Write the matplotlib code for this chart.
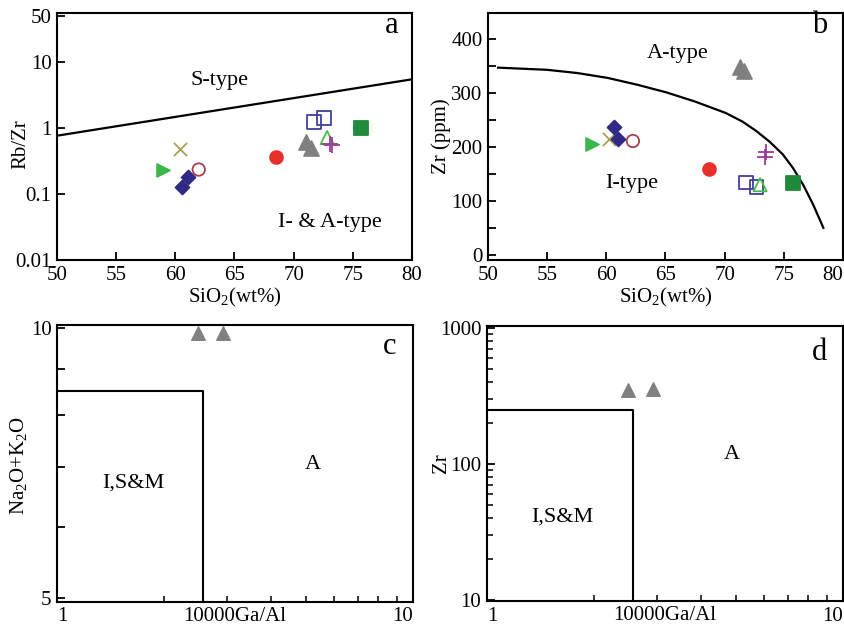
import matplotlib
matplotlib.use('Agg')
import matplotlib.pyplot as plt
from matplotlib.ticker import FixedLocator, NullFormatter, NullLocator

plt.rcParams['font.family'] = ['Liberation Serif', 'DejaVu Serif']
plt.rcParams['mathtext.fontset'] = 'custom'
plt.rcParams['mathtext.rm'] = 'Liberation Serif'

# ---- data ----
# marker groups (same sample groups in panels a and b)
kind_marker = ['>', 'x', 'D', 'o', 'o', '^', 's', '^', '+', 's']
kind_face = ['#3cb54a', '#a89f55', '#2e2a86', 'none', '#e8302a',
             '#808080', 'none', 'none', '#9a3b9a', '#1e8a3a']
kind_edge = ['#3cb54a', '#a89f55', '#2e2a86', '#a5404c', '#e8302a',
             '#808080', '#3f3f9e', '#4cbb4c', '#9a3b9a', '#1e8a3a']
kind_size = [85, 90, 50, 80, 85, 115, 100, 90, 125, 100]

# panel a: SiO2 vs Rb/Zr
a_sio2 = [58.95, 60.42, 60.57, 61.05, 61.98, 68.5, 71.05, 71.47, 71.7, 72.6, 72.83, 73.1, 73.25, 75.67]
a_rbzr = [0.228, 0.48, 0.127, 0.18, 0.233, 0.356, 0.60, 0.49, 1.23, 1.43, 0.71, 0.56, 0.54, 1.0]
a_kind = [0, 1, 2, 2, 3, 4, 5, 5, 6, 6, 7, 8, 8, 9]
a_line_x = [50, 80]
a_line_y = [0.76, 5.45]

# panel b: SiO2 vs Zr
b_sio2 = [58.83, 60.26, 60.63, 61.03, 62.25, 68.72, 71.28, 71.65, 71.8, 72.7, 73.0, 73.4, 73.5, 75.8]
b_zr = [206, 214, 237, 214, 211, 160, 349, 340, 134, 125, 130, 182, 190, 134]
b_kind = [0, 1, 2, 2, 3, 4, 5, 5, 6, 6, 7, 8, 8, 9]
b_curve_x = [50.85, 54.99, 57.55, 60.11, 62.68, 65.1, 67.52, 70.09, 71.51,
             72.65, 73.79, 74.93, 75.78, 76.64, 77.49, 78.35]
b_curve_y = [347, 343, 337, 328, 315, 301, 284, 263, 247,
             230, 210, 186, 161, 130, 93, 50]

# panels c and d: 10000Ga/Al
c_gaal = [2.49, 2.93]
c_alk = [9.88, 9.88]
d_gaal = [2.49, 2.93]
d_zr = [350, 356]
box_gaal = 2.57
c_box_top = 8.5
d_box_top = 248

fs = 15
fig = plt.figure(figsize=(8.45, 6.27), dpi=100)
ax_a = fig.add_axes([0.0675, 0.585, 0.420, 0.394])
ax_b = fig.add_axes([0.5775, 0.585, 0.420, 0.394])
ax_c = fig.add_axes([0.0675, 0.040, 0.421, 0.442])
ax_d = fig.add_axes([0.5763, 0.0415, 0.4213, 0.4387])

for ax in (ax_a, ax_b, ax_c, ax_d):
    for s in ax.spines.values():
        s.set_linewidth(1.5)
    ax.tick_params(which='major', direction='in', length=6, width=1.3,
                   labelsize=fs, pad=4)
    ax.tick_params(which='minor', direction='in', length=4, width=1.1)


def draw_points(ax, xs, ys, kinds):
    for x, y, k in zip(xs, ys, kinds):
        if kind_marker[k] in ('x', '+'):
            ax.scatter(x, y, marker=kind_marker[k], s=kind_size[k],
                       c=kind_edge[k], linewidths=1.3, zorder=3)
        else:
            ax.scatter(x, y, marker=kind_marker[k], s=kind_size[k],
                       facecolors=kind_face[k], edgecolors=kind_edge[k],
                       linewidths=1.3, zorder=3)


# ---- a ----
ax_a.set_yscale('log')
ax_a.plot(a_line_x, a_line_y, color='black', lw=1.6)
draw_points(ax_a, a_sio2, a_rbzr, a_kind)
ax_a.set_xlim(50, 80)
ax_a.set_ylim(0.0098, 55)
ax_a.set_xticks(range(50, 81, 5))
ax_a.yaxis.set_major_locator(FixedLocator([0.01, 0.1, 1, 10, 50]))
ax_a.set_yticklabels(['0.01', '0.1', '1', '10', '50'])
ax_a.yaxis.set_minor_locator(NullLocator())
ax_a.set_xlabel('SiO$_\\mathregular{2}$(wt%)', fontsize=fs, labelpad=1)
ax_a.set_ylabel('Rb/Zr', fontsize=fs)
ax_a.yaxis.set_label_coords(-0.076, 0.47)
ax_a.text(0.459, 0.729, 'S-type', transform=ax_a.transAxes, fontsize=16,
          ha='center', va='center')
ax_a.text(0.769, 0.154, 'I- & A-type', transform=ax_a.transAxes, fontsize=16,
          ha='center', va='center')
ax_a.text(0.944, 0.951, 'a', transform=ax_a.transAxes, fontsize=22,
          ha='center', va='center')

# ---- b ----
ax_b.plot(b_curve_x, b_curve_y, color='black', lw=1.6)
draw_points(ax_b, b_sio2, b_zr, b_kind)
ax_b.set_xlim(50, 80)
ax_b.set_ylim(-10, 448)
ax_b.set_xticks(range(50, 81, 5))
ax_b.set_yticks(range(0, 401, 100))
ax_b.set_yticks(range(50, 401, 100), minor=True)
ax_b.tick_params(axis='y', which='minor', length=6, width=1.3)
ax_b.set_xlabel('SiO$_\\mathregular{2}$(wt%)', fontsize=fs, labelpad=1)
ax_b.set_ylabel('Zr (ppm)', fontsize=fs)
ax_b.yaxis.set_label_coords(-0.105, 0.5)
ax_b.get_xticklabels()[-1].set_ha('right')
ax_b.text(0.535, 0.838, 'A-type', transform=ax_b.transAxes, fontsize=16,
          ha='center', va='center')
ax_b.text(0.406, 0.312, 'I-type', transform=ax_b.transAxes, fontsize=16,
          ha='center', va='center')
ax_b.text(0.935, 0.951, 'b', transform=ax_b.transAxes, fontsize=22,
          ha='center', va='center')

# ---- c ----
ax_c.set_xscale('log')
ax_c.set_yscale('log')
ax_c.plot([1, box_gaal, box_gaal], [c_box_top, c_box_top, 4.95],
          color='black', lw=1.5)
ax_c.scatter(c_gaal, c_alk, marker='^', s=95, color='#808080', zorder=3)
ax_c.set_xlim(1, 10)
ax_c.set_ylim(4.95, 10.08)
ax_c.xaxis.set_major_locator(FixedLocator([1, 10]))
ax_c.set_xticklabels(['1', '10'])
ax_c.xaxis.set_minor_locator(FixedLocator([2, 3, 4, 5, 6, 7, 8, 9]))
ax_c.xaxis.set_minor_formatter(NullFormatter())
ax_c.yaxis.set_major_locator(FixedLocator([5, 10]))
ax_c.set_yticklabels(['5', '10'])
ax_c.yaxis.set_minor_locator(FixedLocator([6, 7, 8, 9]))
ax_c.yaxis.set_minor_formatter(NullFormatter())
ax_c.tick_params(axis='y', which='minor', length=6, width=1.3)
ax_c.set_ylabel('Na$_\\mathregular{2}$O+K$_\\mathregular{2}$O', fontsize=fs)
ax_c.yaxis.set_label_coords(-0.076, 0.49)
ax_c.set_xlabel('10000Ga/Al', fontsize=fs)
ax_c.xaxis.set_label_coords(0.5, -0.018)
ax_c.text(0.214, 0.43, 'I,S&M', transform=ax_c.transAxes, fontsize=16,
          ha='center', va='center')
ax_c.text(0.72, 0.495, 'A', transform=ax_c.transAxes, fontsize=16,
          ha='center', va='center')
ax_c.text(0.935, 0.92, 'c', transform=ax_c.transAxes, fontsize=22,
          ha='center', va='center')

# ---- d ----
ax_d.set_xscale('log')
ax_d.set_yscale('log')
ax_d.plot([1, box_gaal, box_gaal], [d_box_top, d_box_top, 9.8],
          color='black', lw=1.5)
ax_d.scatter(d_gaal, d_zr, marker='^', s=95, color='#808080', zorder=3)
ax_d.set_xlim(1, 10)
ax_d.set_ylim(9.8, 1034)
ax_d.xaxis.set_major_locator(FixedLocator([1, 10]))
ax_d.set_xticklabels(['1', '10'])
ax_d.xaxis.set_minor_locator(FixedLocator([2, 3, 4, 5, 6, 7, 8, 9]))
ax_d.xaxis.set_minor_formatter(NullFormatter())
ax_d.yaxis.set_major_locator(FixedLocator([10, 100, 1000]))
ax_d.set_yticklabels(['10', '100', '1000'])
ax_d.yaxis.set_minor_formatter(NullFormatter())
ax_d.set_ylabel('Zr', fontsize=fs)
ax_d.yaxis.set_label_coords(-0.10, 0.5)
ax_d.set_xlabel('10000Ga/Al', fontsize=fs)
ax_d.xaxis.set_label_coords(0.5, -0.018)
ax_d.text(0.211, 0.305, 'I,S&M', transform=ax_d.transAxes, fontsize=16,
          ha='center', va='center')
ax_d.text(0.688, 0.531, 'A', transform=ax_d.transAxes, fontsize=16,
          ha='center', va='center')
ax_d.text(0.935, 0.902, 'd', transform=ax_d.transAxes, fontsize=22,
          ha='center', va='center')

for ax in (ax_c, ax_d):
    labs = ax.get_xticklabels()
    labs[0].set_ha('left')
    labs[-1].set_ha('right')

fig.savefig('out.png', dpi=100)
